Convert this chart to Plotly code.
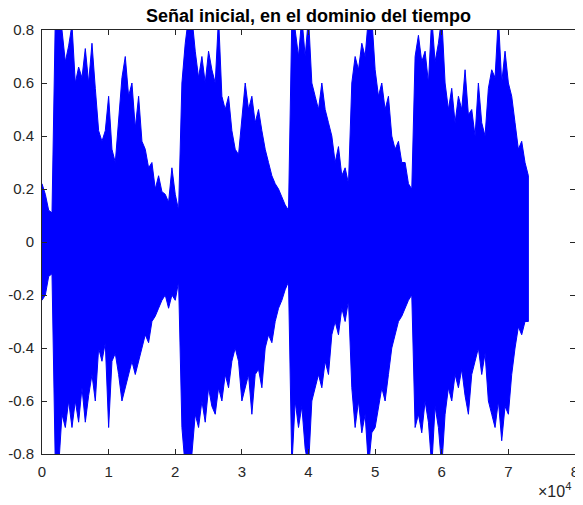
import plotly.graph_objects as go

# sample positions (every 500 samples) and envelope peaks
samples = list(range(0, 73001, 500))
upper = [
    0.22, 0.18, 0.12, 0.11, 0.85, 0.85, 0.80, 0.68, 0.74, 0.82,
    0.60, 0.66, 0.62, 0.73, 0.60, 0.75, 0.58, 0.42, 0.38, 0.42,
    0.55, 0.35, 0.30, 0.45, 0.62, 0.70, 0.55, 0.60, 0.43, 0.55,
    0.38, 0.35, 0.28, 0.30, 0.20, 0.25, 0.19, 0.18, 0.15, 0.28,
    0.18, 0.12, 0.60, 0.75, 0.85, 0.85, 0.72, 0.62, 0.70, 0.60,
    0.72, 0.65, 0.60, 0.85, 0.55, 0.50, 0.55, 0.42, 0.35, 0.33,
    0.48, 0.60, 0.50, 0.55, 0.45, 0.50, 0.42, 0.35, 0.30, 0.25,
    0.22, 0.20, 0.17, 0.14, 0.12, 0.85, 0.80, 0.70, 0.85, 0.70,
    0.85, 0.60, 0.55, 0.50, 0.60, 0.50, 0.45, 0.40, 0.30, 0.36,
    0.25, 0.28, 0.22, 0.60, 0.70, 0.65, 0.75, 0.70, 0.85, 0.85,
    0.65, 0.55, 0.60, 0.50, 0.55, 0.40, 0.35, 0.38, 0.30, 0.30,
    0.22, 0.20, 0.70, 0.78, 0.68, 0.72, 0.60, 0.85, 0.68, 0.75,
    0.85, 0.60, 0.50, 0.58, 0.45, 0.55, 0.50, 0.65, 0.48, 0.50,
    0.40, 0.60, 0.45, 0.40, 0.58, 0.65, 0.62, 0.85, 0.60, 0.72,
    0.60, 0.55, 0.45, 0.35, 0.38, 0.30, 0.25,
]
lower = [
    -0.22, -0.20, -0.13, -0.12, -0.85, -0.85, -0.65, -0.70, -0.60, -0.70,
    -0.60, -0.68, -0.55, -0.68, -0.58, -0.50, -0.60, -0.40, -0.45, -0.38,
    -0.70, -0.45, -0.42, -0.50, -0.60, -0.55, -0.50, -0.45, -0.50, -0.45,
    -0.40, -0.35, -0.38, -0.30, -0.28, -0.25, -0.22, -0.20, -0.25, -0.20,
    -0.22, -0.15, -0.70, -0.85, -0.85, -0.80, -0.65, -0.70, -0.60, -0.68,
    -0.55, -0.62, -0.65, -0.55, -0.60, -0.50, -0.55, -0.45, -0.40, -0.45,
    -0.60, -0.55, -0.50, -0.65, -0.50, -0.48, -0.55, -0.40, -0.35, -0.38,
    -0.30, -0.25, -0.22, -0.18, -0.15, -0.85, -0.60, -0.70, -0.62, -0.78,
    -0.85, -0.60, -0.55, -0.50, -0.55, -0.45, -0.50, -0.35, -0.30, -0.35,
    -0.25, -0.30, -0.22, -0.55, -0.70, -0.60, -0.72, -0.65, -0.85, -0.72,
    -0.70, -0.62, -0.55, -0.60, -0.50, -0.40, -0.35, -0.30, -0.28, -0.25,
    -0.22, -0.20, -0.70, -0.65, -0.72, -0.60, -0.68, -0.85, -0.62, -0.70,
    -0.85, -0.65, -0.55, -0.60, -0.50, -0.55, -0.48, -0.58, -0.65, -0.50,
    -0.45, -0.40, -0.50, -0.42, -0.60, -0.65, -0.70, -0.60, -0.75, -0.62,
    -0.65, -0.50, -0.40, -0.32, -0.35, -0.30, -0.30,
]
x_tick_vals = [0, 10000, 20000, 30000, 40000, 50000, 60000, 70000, 80000]
x_tick_text = ["0", "1", "2", "3", "4", "5", "6", "7", "8"]
y_tick_vals = [-0.8, -0.6, -0.4, -0.2, 0, 0.2, 0.4, 0.6, 0.8]
y_tick_text = ["-0.8", "-0.6", "-0.4", "-0.2", "0", "0.2", "0.4", "0.6", "0.8"]

FONT = "Liberation Sans, Arial, Helvetica, sans-serif"
BLUE = "#0000ff"

fig = go.Figure()
fig.add_trace(go.Scatter(
    x=samples + samples[::-1],
    y=upper + lower[::-1],
    mode="lines",
    fill="toself",
    fillcolor=BLUE,
    line=dict(color=BLUE, width=1),
    hoverinfo="skip",
    showlegend=False,
))

axis_common = dict(
    showgrid=False, zeroline=False, showline=True, linecolor="#262626",
    linewidth=1, mirror="ticks", ticks="inside", ticklen=5,
    tickcolor="#262626", automargin=False,
    tickfont=dict(family=FONT, size=15, color="#262626"),
)
fig.update_xaxes(range=[0, 80000], tickvals=x_tick_vals, ticktext=x_tick_text,
                 ticklabelstandoff=4, **axis_common)
fig.update_yaxes(range=[-0.8, 0.8], tickvals=y_tick_vals, ticktext=y_tick_text,
                 ticklabelstandoff=4, **axis_common)

fig.update_layout(
    width=575, height=497,
    margin=dict(l=34, r=8, t=22, b=51),
    plot_bgcolor="white", paper_bgcolor="white",
    title=dict(text="<b>Señal inicial, en el dominio del tiempo</b>",
               xref="paper", x=0.5, xanchor="center",
               yref="container", y=0.984, yanchor="middle",
               font=dict(family=FONT, size=18, color="#000000")),
    annotations=[dict(text="×10<sup>4</sup>", xref="paper", yref="paper",
                      x=0.996, y=-0.113, xanchor="right", yanchor="bottom",
                      showarrow=False,
                      font=dict(family=FONT, size=16, color="#262626"))],
)

fig.write_html("out.html")
